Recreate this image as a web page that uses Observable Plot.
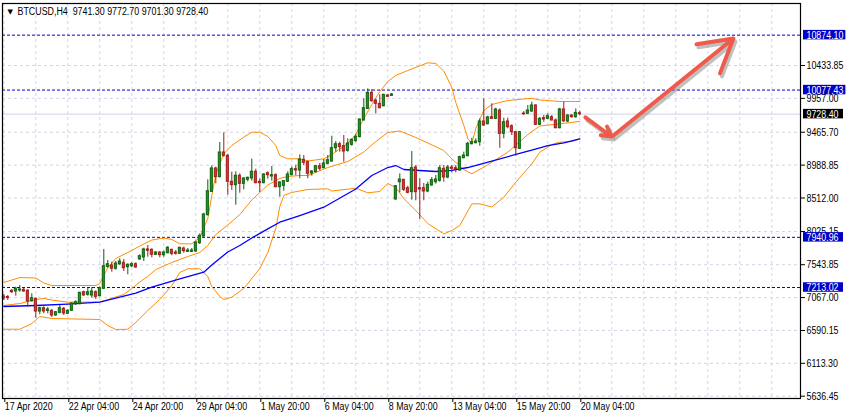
<!DOCTYPE html>
<html><head><meta charset="utf-8">
<script src="https://cdn.jsdelivr.net/npm/d3@7"></script>
<script src="https://cdn.jsdelivr.net/npm/@observablehq/plot@0.6"></script>
<style>
body{margin:0;background:#fff;}
#chart svg{display:block;}
</style></head>
<body><div id="chart"></div>
<script>
const FONT = '"Liberation Sans",Arial,sans-serif';

// ---- Candles (H4 bars, index 0 = 17 Apr 2020) ----
const open = [7083,7075,7165,7155,7170,7180,7165,7015,7049,6865,
 6913,6875,6875,6807,6846,6904,6832,6875,6971,6971,
 7145,7107,7097,7145,7087,7194,7513,7532,7485,7551,
 7572,7508,7522,7551,7620,7649,7765,7760,7688,7721,
 7682,7711,7760,7721,7702,7779,7731,7731,7736,7856,
 7953,8262,8601,8940,8814,9172,9124,8747,8698,8834,
 8717,8776,8795,8892,8747,8727,8872,8824,8843,8669,
 8688,8747,8843,8930,8911,9065,9031,8867,8886,8973,
 8944,9008,9041,9234,9292,9263,9196,9283,9336,9394,
 9636,9805,10037,9926,9878,9843,9999,9994,8490,8741,
 8776,8654,8596,8954,8654,8654,8606,8693,8741,8761,
 8935,8809,8954,8944,8911,9089,9118,9292,9307,9321,
 9622,9582,9684,9660,9781,9443,9622,9553,9466,9225,
 9737,9733,9766,9854,9573,9670,9660,9684,9636,9524,
 9796,9622,9708,9684,9741.3];
const high = [7112,7097,7184,7218,7242,7203,7184,7122,7058,6928,
 6933,6923,6894,6865,6952,6923,6890,6991,7020,7145,
 7160,7203,7213,7165,7218,7765,7605,7580,7590,7630,
 7620,7557,7572,7572,7688,7784,7823,7774,7736,7731,
 7740,7808,7769,7750,7798,7798,7779,7779,7885,7992,
 8291,8776,8979,8959,9317,9457,9143,8886,8892,8863,
 8805,8814,9075,8930,8785,8863,8892,8969,8863,8747,
 8766,8892,8959,8988,9138,9128,9051,8911,8983,9012,
 9070,9128,9408,9331,9321,9418,9370,9370,9437,9660,
 9950,10095,10086,9941,10008,10017,10008,10028,8693,8863,
 8780,8683,9186,8983,8790,8722,8741,8809,8838,8983,
 8983,8983,8983,8983,9118,9176,9321,9379,9370,9660,
 9950,9698,9878,9814,9805,9670,9670,9573,9476,9476,
 9766,9854,9902,9863,9680,9708,9733,9708,9660,9814,
 9902,9718,9718,9805,9772.7];
const low = [7025,7025,7126,7087,7145,7145,6928,7000,6768,6817,
 6832,6832,6778,6797,6832,6807,6822,6865,6952,6962,
 7087,7087,7058,7039,7078,7184,7493,7435,7464,7532,
 7446,7398,7503,7493,7609,7590,7653,7644,7678,7644,
 7653,7702,7673,7682,7692,7711,7721,7721,7721,7837,
 7943,8253,8592,8717,8805,9104,8552,8621,8407,8581,
 8630,8747,8756,8717,8592,8717,8785,8756,8659,8523,
 8610,8737,8834,8834,8791,8983,8791,8828,8877,8906,
 8935,8993,9031,9176,9176,9031,9176,9263,9321,9385,
 9631,9796,9901,9733,9805,9834,9970,9984,8480,8587,
 8606,8572,8480,8471,8200,8471,8587,8683,8712,8741,
 8741,8790,8877,8877,8896,9080,9109,9283,9297,9263,
 9553,9573,9650,9650,9234,9370,9515,9418,9118,9215,
 9708,9723,9757,9563,9563,9611,9650,9631,9515,9515,
 9611,9603,9670,9670,9701.3];
const close = [7054,7061,7145,7194,7184,7155,7010,7058,6865,6913,
 6865,6894,6807,6855,6913,6836,6875,6981,7000,7136,
 7097,7145,7155,7078,7203,7522,7551,7485,7561,7590,
 7493,7543,7551,7503,7667,7765,7746,7688,7721,7682,
 7721,7789,7702,7702,7789,7740,7750,7750,7866,7963,
 8272,8610,8940,8814,9172,9124,8747,8698,8834,8717,
 8795,8805,8892,8727,8727,8853,8843,8843,8669,8737,
 8756,8853,8930,8911,9070,9022,8863,8896,8973,8935,
 9012,9060,9234,9292,9249,9186,9302,9355,9399,9650,
 9814,10037,9916,9878,9814,10008,9980,10013,8683,8780,
 8630,8587,8944,8596,8635,8606,8703,8770,8780,8944,
 8809,8954,8935,8925,9104,9128,9297,9321,9331,9622,
 9563,9680,9660,9796,9443,9611,9539,9466,9234,9466,
 9727,9781,9854,9573,9660,9650,9698,9636,9524,9796,
 9622,9708,9684,9747,9728.4];

// ---- Bollinger bands (at bar indices) ----
const ubIdx = [0,4,8,10,12,23,24,26,28,31,34,37,40,42,44,47,49,51,52,53,55,57,60,62,64,66,68,69,71,74,76,80,82,86,88,90,92,94,96,98,101,106,108,110,112,113,115,116,117,118,120,122,126,132,134,139,144];
const ub = [7286,7358,7351,7279,7242,7242,7271,7503,7634,7721,7815,7902,7931,7910,7847,7847,7939,8214,8548,8853,9153,9273,9394,9466,9466,9404,9273,9128,9080,9080,9048,9080,9143,9302,9433,9665,9868,10057,10201,10289,10361,10473,10463,10354,10115,9897,9563,9375,9302,9520,9781,9868,9926,9959,9933,9912,9912];
const mbIdx = [0,4,8,10,12,16,24,26,30,32,34,36,38,42,46,49,51,53,56,59,62,66,69,71,74,76,81,86,90,93,96,99,103,107,110,112,115,117,120,126,131,134,139,144];
const mb = [6952,6981,7039,7054,7032,7000,7003,7039,7112,7199,7293,7373,7474,7576,7663,7721,7823,7982,8120,8272,8483,8700,8795,8824,8838,8838,8954,9041,9179,9331,9462,9484,9389,9283,9201,9080,8925,8863,8959,9176,9433,9556,9588,9622];
const lbIdx = [0,4,7,9,12,24,26,28,31,33,36,39,42,44,46,49,51,52,54,55,57,60,64,66,68,69,70,72,76,81,82,88,91,94,96,98,100,103,106,110,112,114,117,119,122,125,128,132,134,137,139,142,144];
const lb = [6608,6608,6691,6793,6764,6749,6662,6604,6608,6706,6880,7039,7242,7431,7485,7485,7373,7228,7083,7039,7073,7199,7489,7721,8069,8388,8548,8592,8635,8645,8613,8654,8587,8606,8722,8664,8504,8330,8141,7991,8040,8112,8427,8427,8381,8523,8741,9007,9176,9288,9321,9331,9370];
// ---- Moving average (blue) ----
const maIdx = [0,8,16,24,27,33,37,44,50,52,56,59,62,66,69,74,80,88,92,96,98,100,108,112,116,122,128,132,136,140,144];
const ma = [6938,6952,6971,7000,7046,7133,7220,7340,7436,7540,7729,7823,7931,8064,8160,8257,8378,8642,8838,8954,8983,8925,8896,8911,8954,9048,9143,9208,9273,9312,9370];

// ---- Levels, axis ticks, annotations ----
const levels = [10874.10, 10077.43, 7940.96, 7213.02];
const lastPrice = 9728.40;
const header = "BTCUSD,H4\u00a0 9741.30 9772.70 9701.30 9728.40";
const yTicks = [5636.45, 6113.30, 6590.15, 7067.00, 7543.85, 8025.15, 8512.00, 8988.85, 9465.70, 9957.00, 10433.85];
const xTickIdx = [0,16,32,48,64,80,96,112,128,144];
const xLabels = ["17 Apr 2020","22 Apr 04:00","24 Apr 20:00","29 Apr 04:00","1 May 20:00","6 May 04:00","8 May 20:00","13 May 04:00","15 May 20:00","20 May 04:00"];
const xGridIdx = [0,8,16,24,32,40,48,56,64,72,80,88,96,104,112,120,128,136,144,152,160,168,176,184,192];
const arrowFromIdx = [145.4, 152.4];
const arrowFromPrice = [9680, 9418];
const arrowToIdx = [151.9, 182.4];
const arrowToPrice = [9404, 10825];

// ---- build tables ----
const candles = open.map((o, i) => ({i, open: o, high: high[i], low: low[i], close: close[i]}));
const up = candles.filter(d => d.close >= d.open);
const down = candles.filter(d => d.close < d.open);
const pairs = (idx, vals) => idx.map((i, k) => ({i, v: vals[k]}));
const arrows = arrowFromIdx.map((x1, k) => ({x1, y1: arrowFromPrice[k], x2: arrowToIdx[k], y2: arrowToPrice[k]}));
const labelMap = new Map(xTickIdx.map((d, k) => [d, xLabels[k]]));
const boxes = [...levels.map(v => ({v, color: "#0000c8"})), {v: lastPrice, color: "#000000"}];

const gridStyle = {stroke: "#d4d4e6", strokeOpacity: 1, strokeDasharray: "3,3"};

const chart = Plot.plot({
  width: 846, height: 419,
  marginLeft: 2, marginRight: 46, marginTop: 3, marginBottom: 21,
  x: {type: "linear", domain: [-0.325, 199.175]},
  y: {type: "linear", domain: [5603.0, 11333.3]},
  style: {fontFamily: FONT, fontSize: "11px", background: "white", color: "black"},
  marks: [
    Plot.gridY(yTicks, gridStyle),
    Plot.gridX(xGridIdx, gridStyle),
    Plot.ruleY([lastPrice], {stroke: "#d2d2e8", strokeWidth: 1}),
    Plot.ruleY(levels, {stroke: "#0000d0", strokeDasharray: "3,2", strokeWidth: 1}),
    Plot.line(pairs(ubIdx, ub), {x: "i", y: "v", stroke: "#ff8c00", strokeWidth: 1}),
    Plot.line(pairs(mbIdx, mb), {x: "i", y: "v", stroke: "#ff8c00", strokeWidth: 1}),
    Plot.line(pairs(lbIdx, lb), {x: "i", y: "v", stroke: "#ff8c00", strokeWidth: 1}),
    Plot.line(pairs(maIdx, ma), {x: "i", y: "v", stroke: "#0000ff", strokeWidth: 1.3}),
    Plot.ruleX(up, {x: "i", y1: "low", y2: "high", stroke: "#0a5f0a", strokeWidth: 1}),
    Plot.ruleX(down, {x: "i", y1: "low", y2: "high", stroke: "#a01818", strokeWidth: 1}),
    Plot.rect(up, {x1: d => d.i - 0.25, x2: d => d.i + 0.25, y1: "open", y2: "close", fill: "#22a022", stroke: "#0a5f0a", strokeWidth: 1}),
    Plot.rect(down, {x1: d => d.i - 0.25, x2: d => d.i + 0.25, y1: "open", y2: "close", fill: "#dc3c3c", stroke: "#a01818", strokeWidth: 1}),
    Plot.arrow(arrows, {x1: "x1", y1: "y1", x2: "x2", y2: "y2", stroke: "#8c8c8c", strokeOpacity: 0.55, strokeWidth: 4, headLength: 14, dx: 2, dy: 3}),
    Plot.arrow(arrows, {x1: "x1", y1: "y1", x2: "x2", y2: "y2", stroke: "#f05a4a", strokeWidth: 4, headLength: 14}),
    Plot.frame({stroke: "black", strokeWidth: 1.2}),
    Plot.axisY(yTicks, {anchor: "right", tickSize: 4, tickPadding: 2, tickFormat: d => d.toFixed(2), fontSize: 11, stroke: "black"}),
    Plot.axisX(xTickIdx, {anchor: "bottom", tickSize: 4, tickPadding: 0, tickFormat: d => labelMap.get(d), textAnchor: "start", dx: 1, fontSize: 11, stroke: "black"}),
    Plot.text(boxes, {y: "v", frameAnchor: "right", dx: 6, textAnchor: "start", text: d => d.v.toFixed(2), fill: "white", fontSize: 11, ariaLabel: "box-label"}),
    Plot.text(["\u25BC"], {frameAnchor: "top-left", dx: 5, dy: 6, text: d => d, textAnchor: "start", lineAnchor: "top", fontSize: 7, fontFamily: "DejaVu Sans", fill: "black"}),
    Plot.text([header], {frameAnchor: "top-left", dx: 15, dy: 4, text: d => d, textAnchor: "start", lineAnchor: "top", fontSize: 11, fill: "black"})
  ]
});

document.getElementById("chart").append(chart);

// narrow the text horizontally (terminal font look): "10433.85" should be ~37px wide
const allTexts = Array.from(chart.querySelectorAll("text"));
const refText = allTexts.find(t => t.textContent === "10433.85");
let k = 0.8;
try { if (refText) k = 37 / refText.getComputedTextLength(); } catch (e) {}
allTexts.forEach(t => {
  if (t.textContent === "\u25BC") return;
  let tr = t.getAttribute("transform") || "";
  const xa = t.getAttribute("x");
  if (xa !== null && xa !== "" && !isNaN(+xa)) {
    t.removeAttribute("x");
    tr += ` translate(${xa},0)`;
  }
  t.setAttribute("transform", `${tr} scale(${k.toFixed(4)},1)`.trim());
});

// coloured boxes behind the right-axis level labels, placed with the y scale
try {
  const ys = chart.scale("y");
  const svgRect = chart.getBoundingClientRect();
  const labelTexts = allTexts.filter(t => boxes.some(b => b.v.toFixed(2) === t.textContent));
  const boxTexts = labelTexts.filter(t => {
    const g = t.parentNode;
    return g && (g.getAttribute("fill") === "white" || t.getAttribute("fill") === "white");
  });
  const labelGroup = boxTexts.length ? boxTexts[0].parentNode : null;
  const gBox = document.createElementNS("http://www.w3.org/2000/svg", "g");
  for (const b of boxes) {
    const txt = boxTexts.find(t => t.textContent === b.v.toFixed(2));
    let right = 843;
    if (txt) { const r0 = txt.getBoundingClientRect(); right = Math.max(right, r0.right - svgRect.left + 1.5); }
    const r = document.createElementNS("http://www.w3.org/2000/svg", "rect");
    const cy = ys.apply(b.v);
    r.setAttribute("x", 803);
    r.setAttribute("y", (cy - 4.75).toFixed(2));
    r.setAttribute("width", Math.min(right, 846) - 803);
    r.setAttribute("height", 9.5);
    r.setAttribute("fill", b.color);
    gBox.appendChild(r);
  }
  if (labelGroup && labelGroup.parentNode === chart) chart.insertBefore(gBox, labelGroup);
  else {
    const g = chart.querySelector('g[aria-label="box-label"]');
    if (g) chart.insertBefore(gBox, g); else chart.appendChild(gBox);
  }
} catch (e) { console.error(e); }
</script>
</body></html>
